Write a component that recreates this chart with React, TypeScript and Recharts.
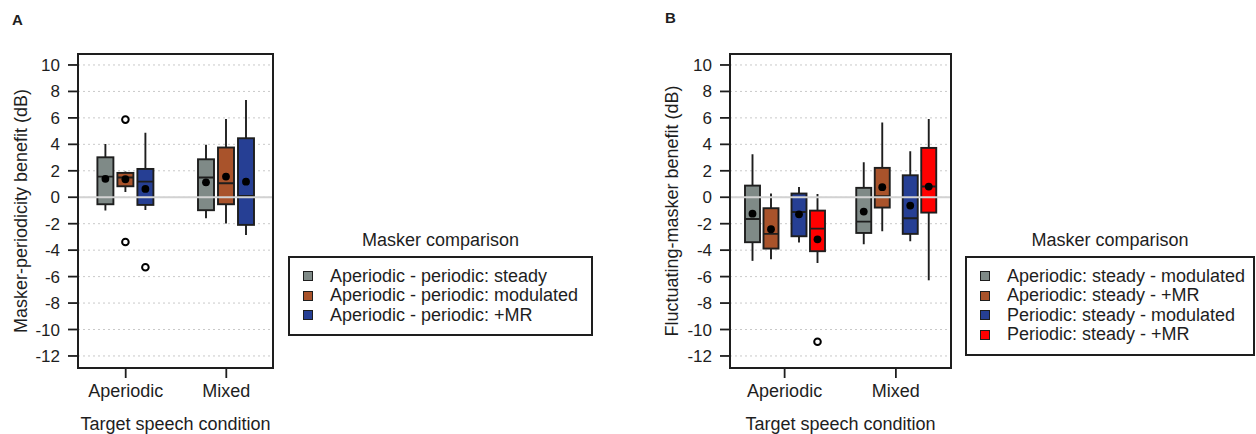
import React from 'react';
import {
    BarChart,
    Bar,
    XAxis,
    YAxis,
    CartesianGrid,
    ReferenceLine,
    Legend,
} from 'recharts';

const conditions = ['Aperiodic', 'Mixed'];
const yTicks = [-12, -10, -8, -6, -4, -2, 0, 2, 4, 6, 8, 10];

// box stats per condition: [lower whisker, Q1, median, Q3, upper whisker]
const aSteady = [[-1.0, -0.53, 1.56, 3.02, 4.03], [-1.59, -0.98, 1.49, 2.87, 3.96]];
const aModulated = [[0.4, 0.83, 1.49, 1.84, 1.94], [-1.99, -0.53, 1.06, 3.76, 5.92]];
const aMR = [[-0.96, -0.58, 1.18, 2.14, 4.87], [-2.85, -2.09, 0.1, 4.46, 7.36]];
const aSteadyMean = [1.39, 1.13];
const aModulatedMean = [1.36, 1.56];
const aMRMean = [0.63, 1.18];
const aSteadyOut = [[], []];
const aModulatedOut = [[5.87, -3.38], []];
const aMROut = [[-5.29], []];

const bAperMod = [[-4.81, -3.4, -1.64, 0.88, 3.25], [-3.55, -2.7, -1.84, 0.71, 2.65]];
const bAperMR = [[-4.69, -3.88, -2.77, -0.83, 0.28], [-2.57, -0.78, 0.08, 2.22, 5.65]];
const bPerMod = [[-3.43, -2.95, -1.11, 0.28, 0.78], [-3.33, -2.77, -1.59, 1.66, 3.48]];
const bPerMR = [[-4.97, -4.08, -2.37, -1.01, 0.25], [-6.28, -1.16, 0.81, 3.73, 5.92]];
const bAperModMean = [-1.24, -1.08];
const bAperMRMean = [-2.42, 0.76];
const bPerModMean = [-1.29, -0.63];
const bPerMRMean = [-3.18, 0.81];
const bAperModOut = [[], []];
const bAperMROut = [[], []];
const bPerModOut = [[], []];
const bPerMROut = [[-10.92], []];

const GRAY = '#7f8a87';
const BROWN = '#a9532b';
const BLUE = '#263f94';
const RED = '#ff0000';
const INK = '#1e1e1e';

const seriesA = [
    { key: 'steady', name: 'Aperiodic - periodic: steady', color: GRAY, stats: aSteady, mean: aSteadyMean, out: aSteadyOut },
    { key: 'modulated', name: 'Aperiodic - periodic: modulated', color: BROWN, stats: aModulated, mean: aModulatedMean, out: aModulatedOut },
    { key: 'mr', name: 'Aperiodic - periodic: +MR', color: BLUE, stats: aMR, mean: aMRMean, out: aMROut },
];

const seriesB = [
    { key: 'aperMod', name: 'Aperiodic: steady - modulated', color: GRAY, stats: bAperMod, mean: bAperModMean, out: bAperModOut },
    { key: 'aperMR', name: 'Aperiodic: steady - +MR', color: BROWN, stats: bAperMR, mean: bAperMRMean, out: bAperMROut },
    { key: 'perMod', name: 'Periodic: steady - modulated', color: BLUE, stats: bPerMod, mean: bPerModMean, out: bPerModOut },
    { key: 'perMR', name: 'Periodic: steady - +MR', color: RED, stats: bPerMR, mean: bPerMRMean, out: bPerMROut },
];

function buildRows(series: any[]) {
    return conditions.map((cond, i) => {
        const row: any = { cond };
        series.forEach((s) => {
            row[s.key] = [s.stats[i][1], s.stats[i][3]];
            row[s.key + 'Box'] = { box: s.stats[i], mean: s.mean[i], out: s.out[i] };
        });
        return row;
    });
}

const rowsA = buildRows(seriesA);
const rowsB = buildRows(seriesB);

// draws whiskers, box, median, mean and outliers; the value->pixel
// factor comes from the Q1..Q3 bar that recharts laid out
function BoxShape(props: any) {
    const { x, y, width, height, payload, boxKey, fill } = props;
    const st = payload?.[boxKey];
    if (!st) return null;
    const [lo, q1, med, q3, hi] = st.box;
    const top = Math.min(y, y + height);
    const h = Math.abs(height);
    const k = h / (q3 - q1);
    const py = (v: number) => top + (q3 - v) * k;
    const cx = x + width / 2;
    const sw = 1.9;
    return (
        <g>
            <line x1={cx} x2={cx} y1={py(hi)} y2={py(q3)} stroke={INK} strokeWidth={sw} />
            <line x1={cx} x2={cx} y1={py(q1)} y2={py(lo)} stroke={INK} strokeWidth={sw} />
            <rect x={x} y={top} width={width} height={h} fill={fill} stroke={INK} strokeWidth={sw} />
            <line x1={x} x2={x + width} y1={py(med)} y2={py(med)} stroke={INK} strokeWidth={sw} />
            <circle cx={cx} cy={py(st.mean)} r={3.9} fill="#000" />
            {st.out.map((v: number, i: number) => (
                <circle key={i} cx={cx} cy={py(v)} r={3.3} fill="#fff" stroke="#000" strokeWidth={2} />
            ))}
        </g>
    );
}

function LegendBox({ series, title }: any) {
    return (
        <div style={{ width: '100%', fontSize: 18, color: INK, fontFamily: '"Liberation Sans", Arial, sans-serif' }}>
            <div style={{ textAlign: 'center', lineHeight: '20px', marginBottom: 6 }}>{title}</div>
            <div style={{ border: `2px solid ${INK}`, padding: '9px 0 9px 13px', boxSizing: 'border-box' }}>
                {series.map((s: any) => (
                    <div key={s.key} style={{ display: 'flex', alignItems: 'center', height: 19.5, lineHeight: '19.5px', whiteSpace: 'nowrap' }}>
                        <span style={{ display: 'inline-block', width: 10, height: 10, background: s.color, border: `1.5px solid ${INK}`, boxSizing: 'border-box', marginRight: 17 }} />
                        <span>{s.name}</span>
                    </div>
                ))}
            </div>
        </div>
    );
}

const yDomain = [-12.91, 10.83];

function Panel({ rows, series, yLabel, yLabelOffset, width, marginRight, padding, barSize, barGap, spacerAfter, legendPos }: any) {
    const bars: any[] = [];
    series.forEach((s: any, i: number) => {
        bars.push(
            <Bar
                key={s.key}
                dataKey={s.key}
                name={s.name}
                fill={s.color}
                barSize={barSize}
                isAnimationActive={false}
                shape={(p: any) => <BoxShape {...p} boxKey={s.key + 'Box'} fill={s.color} />}
            />
        );
        if (spacerAfter === i) {
            bars.push(<Bar key="gap" dataKey="gap" name="" legendType="none" barSize={6} fill="none" isAnimationActive={false} />);
        }
    });
    return (
        <BarChart
            width={width}
            height={434}
            data={rows}
            margin={{ top: 54, right: marginRight, bottom: 4, left: 0 }}
            barGap={barGap}
        >
            <CartesianGrid vertical={false} stroke="#c9c9c9" strokeDasharray="2 3" />
            <ReferenceLine y={0} stroke="#d2d2d2" strokeWidth={2} />
            <XAxis
                dataKey="cond"
                type="category"
                padding={padding}
                axisLine={false}
                tickSize={10}
                tickMargin={6}
                tickLine={{ stroke: INK, strokeWidth: 1.8 }}
                tick={{ fontSize: 18, fill: INK }}
                height={62}
                label={{ value: 'Target speech condition', position: 'insideBottom', offset: 0, fontSize: 18, fill: INK }}
            />
            <YAxis
                type="number"
                domain={yDomain}
                ticks={yTicks}
                allowDataOverflow
                interval={0}
                width={78}
                axisLine={false}
                tickSize={10}
                tickMargin={8}
                tickLine={{ stroke: INK, strokeWidth: 1.8 }}
                tick={{ fontSize: 17, fill: INK }}
                label={{ value: yLabel, angle: -90, position: 'insideLeft', offset: yLabelOffset, fontSize: 18, fill: INK, style: { textAnchor: 'middle' } }}
            />
            {bars}
            <Legend
                layout="vertical"
                align="center"
                verticalAlign="middle"
                wrapperStyle={legendPos}
                content={() => <LegendBox series={series} title="Masker comparison" />}
            />
        </BarChart>
    );
}

export default function App() {
    return (
        <div style={{ position: 'absolute', left: 0, top: 0, width: 1256, height: 434, overflow: 'hidden', background: '#fff', fontFamily: '"Liberation Sans", Arial, sans-serif' }}>
            <div style={{ position: 'absolute', left: 12, top: 12, fontSize: 15, fontWeight: 'bold', lineHeight: '15px', color: INK }}>A</div>
            <div style={{ position: 'absolute', left: 665, top: 10, fontSize: 15, fontWeight: 'bold', lineHeight: '15px', color: INK }}>B</div>
            <div style={{ position: 'absolute', left: 0, top: 0 }}>
                <Panel
                    rows={rowsA}
                    series={seriesA}
                    yLabel="Masker-periodicity benefit (dB)"
                    yLabelOffset={21}
                    width={600}
                    marginRight={327}
                    padding={{ left: -2.6, right: -3.6 }}
                    barSize={16}
                    barGap={4}
                    spacerAfter={-1}
                    legendPos={{ left: 288, top: 229.5, width: 305 }}
                />
            </div>
            <div style={{ position: 'absolute', left: 77, top: 53, width: 197, height: 316, border: `2px solid ${INK}`, boxSizing: 'border-box', pointerEvents: 'none' }} />
            <div style={{ position: 'absolute', left: 652, top: 0 }}>
                <Panel
                    rows={rowsB}
                    series={seriesB}
                    yLabel="Fluctuating-masker benefit (dB)"
                    yLabelOffset={20}
                    width={604}
                    marginRight={305}
                    padding={{ left: -1, right: -0.5 }}
                    barSize={15}
                    barGap={3.5}
                    spacerAfter={1}
                    legendPos={{ left: 313, top: 229.5, width: 290 }}
                />
            </div>
            <div style={{ position: 'absolute', left: 729, top: 53, width: 223, height: 316, border: `2px solid ${INK}`, boxSizing: 'border-box', pointerEvents: 'none' }} />
        </div>
    );
}
